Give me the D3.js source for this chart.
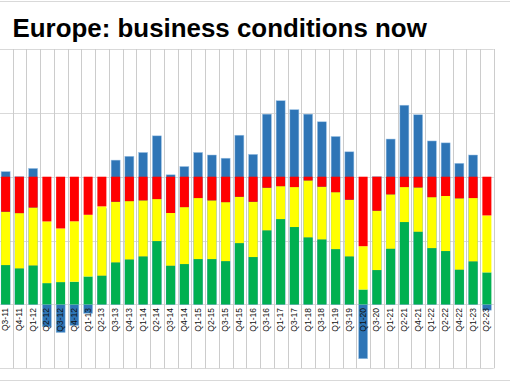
<!DOCTYPE html>
<html>
<head>
<meta charset="utf-8">
<script src="https://cdn.jsdelivr.net/npm/d3@7"></script>
<style>
html,body{margin:0;padding:0;background:#fff;}
svg{display:block;}
</style>
</head>
<body>
<script>
const categories = ["Q3-11","Q4-11","Q1-12","Q2-12","Q3-12","Q4-12","Q1-13","Q2-13","Q3-13","Q4-13","Q1-14","Q2-14","Q3-14","Q4-14","Q1-15","Q2-15","Q3-15","Q4-15","Q1-16","Q3-16","Q1-17","Q3-17","Q1-18","Q3-18","Q1-19","Q3-19","Q1-20","Q3-20","Q1-21","Q2-21","Q4-21","Q1-22","Q2-22","Q4-22","Q1-23","Q2-23"];
const good   = [30.8,28.2,30.5,16.7,17.5,17.8,21.9,22.5,32.9,35.2,37.6,49.6,30.3,31.6,35.5,35.5,33.9,48.0,37.1,58.0,66.8,60.6,52.5,50.9,43.3,37.6,11.7,26.9,43.6,64.5,56.9,44.1,41.8,27.2,33.7,25.1];
const normal = [41.8,43.3,45.4,48.3,42.0,47.3,48.3,54.3,47.5,45.7,43.9,32.9,41.3,44.6,47.8,46.0,46.2,36.3,43.3,33.4,25.8,31.3,44.6,41.3,44.6,44.4,33.9,46.5,42.6,27.4,34.7,39.9,43.1,55.9,49.6,44.6];
const bad    = [27.4,28.5,24.1,35.0,40.5,34.9,29.8,23.2,19.6,19.1,18.5,17.5,28.4,23.8,16.7,18.5,19.9,15.7,19.6,8.6,7.4,8.1,2.9,7.8,12.1,18.0,54.4,26.6,13.8,8.1,8.4,16.0,15.1,16.9,16.7,30.3];
const balance = [20.8,20.0,21.3,-3.5,-4.4,-3.3,-1.4,15.0,22.6,23.2,23.8,26.4,20.3,21.6,23.8,23.4,22.9,26.5,23.5,29.8,31.9,30.5,29.8,28.6,26.3,23.9,-8.5,20.0,25.9,31.2,29.7,25.6,25.3,22.1,23.4,-0.9];
const leftTicks = [-50,0,50,100,150,200];
const title = "Europe: business conditions now";

const W = 510, H = 382;
const svg = d3.select("body").append("svg").attr("width", W).attr("height", H);

// outer chart border (top/bottom visible)
svg.append("line").attr("x1",0).attr("x2",W).attr("y1",1.5).attr("y2",1.5).attr("stroke","#d9d9d9");
svg.append("line").attr("x1",0).attr("x2",W).attr("y1",380.5).attr("y2",380.5).attr("stroke","#d9d9d9");

svg.append("text").attr("x",12.5).attr("y",37)
  .attr("font-family","'Liberation Sans', Arial, sans-serif")
  .attr("font-weight","bold").attr("font-size","25.9px").attr("fill","#000")
  .text(title);

const x = d3.scaleBand().domain(categories).range([-1.25, 493.75]).paddingInner(0.345).paddingOuter(0.1725);
const y = d3.scaleLinear().domain([-50,200]).range([368.3,49]);
const yb = d3.scaleLinear().domain([-10,40]).range([368.3,49]);
const step = x.step();
const x0 = -1.25;

// horizontal gridlines
svg.append("g").selectAll("line").data(leftTicks).join("line")
  .attr("x1", x0).attr("x2", x0 + step*categories.length)
  .attr("y1", d => Math.round(y(d))+0.5).attr("y2", d => Math.round(y(d))+0.5)
  .attr("stroke","#d9d9d9").attr("stroke-width",1);

// vertical gridlines at category boundaries
svg.append("g").selectAll("line").data(d3.range(1, categories.length+1)).join("line")
  .attr("x1", d => Math.round(x0 + d*step)+0.5).attr("x2", d => Math.round(x0 + d*step)+0.5)
  .attr("y1", y(200)).attr("y2", y(-50))
  .attr("stroke","#cccccc").attr("stroke-width",1);

// balance bars (behind)
svg.append("g").selectAll("rect").data(categories).join("rect")
  .attr("x", d => x(d)).attr("width", x.bandwidth())
  .attr("y", (d,i) => yb(Math.max(0, balance[i])))
  .attr("height", (d,i) => Math.abs(yb(balance[i]) - yb(0)))
  .attr("fill","#2e75b6").attr("stroke","#9dc3e6").attr("stroke-width",0.5);

// stacked bars
const rows = categories.map((c,i) => ({cat:c, good:good[i], normal:normal[i], bad:bad[i]}));
const stack = d3.stack().keys(["good","normal","bad"])(rows);
const colors = {good:"#00b050", normal:"#ffff00", bad:"#ff0000"};
svg.append("g").selectAll("g").data(stack).join("g")
  .attr("fill", s => colors[s.key])
  .selectAll("rect").data(s => s).join("rect")
  .attr("x", d => x(d.data.cat)).attr("width", x.bandwidth())
  .attr("y", d => y(d[1])).attr("height", d => y(d[0]) - y(d[1]));

// category labels
svg.append("g").selectAll("text").data(categories).join("text")
  .attr("transform", d => `translate(${x(d) + x.bandwidth()/2 - 0.5},308) rotate(-90)`)
  .attr("text-anchor","end").attr("dy","0.35em")
  .attr("font-family","'Liberation Sans', Arial, sans-serif")
  .attr("font-size","8.5px").attr("fill","#111")
  .text(d => d);
</script>
</body>
</html>
